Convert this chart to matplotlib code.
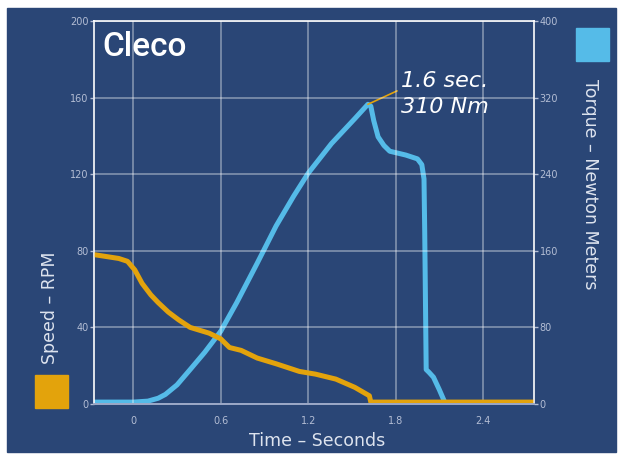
"""
plot.py – Cleco tightening curve: speed and torque against time.
"""
import matplotlib
matplotlib.use("Agg")
import matplotlib.pyplot as plt
import matplotlib.patches as mpatches

BG = "#2a4676"
GRID = "#ffffff"
TXT = "#dde3ee"
TICK = "#b3bdd4"
SPEED_C = "#e3a30c"
TORQUE_C = "#55bbe8"

# ── data ──────────────────────────────────────────────────────────────────────
torque_t = [-0.27, 0.0, 0.10, 0.17, 0.22, 0.30, 0.39, 0.49, 0.60, 0.71, 0.85,
            0.98, 1.10, 1.20, 1.36, 1.52, 1.61, 1.63, 1.65, 1.68, 1.72, 1.76,
            1.87, 1.95, 1.98, 1.995, 2.0, 2.01, 2.03, 2.06, 2.10, 2.14, 2.75]
torque_nm = [2, 2, 3, 6, 10, 20, 36, 54, 76, 106, 147,
             186, 217, 241, 272, 298, 313, 311, 296, 279, 270, 264,
             260, 256, 250, 235, 179, 36, 33, 28, 15, 1, 1]

speed_t = [-0.27, -0.10, -0.04, 0.01, 0.06, 0.12, 0.17, 0.24, 0.31, 0.39, 0.52,
           0.60, 0.66, 0.74, 0.85, 0.98, 1.14, 1.25, 1.39, 1.52, 1.62, 1.63, 2.75]
speed_rpm = [78, 76, 74.5, 70, 63, 57, 53, 48, 44, 40, 37,
             34, 29.5, 28, 24, 21, 17, 15.6, 13, 8.7, 4.3, 1, 1]

x_ticks = [0, 0.6, 1.2, 1.8, 2.4]
x_labels = ["0", "0.6", "1.2", "1.8", "2.4"]
speed_ticks = [0, 40, 80, 120, 160, 200]
torque_ticks = [0, 80, 160, 240, 320, 400]

peak_t, peak_nm = 1.61, 313

# ── figure ────────────────────────────────────────────────────────────────────
fig = plt.figure(figsize=(6.18, 4.58), dpi=100)
fig.patch.set_facecolor("white")
fig.patches.append(mpatches.Rectangle((7 / 618, 1 - 452 / 458), 609 / 618, 444 / 458,
                                      transform=fig.transFigure, color=BG, zorder=-5))

ax = fig.add_axes([94 / 618, 54 / 458, 440 / 618, 383 / 458])
ax2 = ax.twinx()
ax.set_zorder(ax2.get_zorder() + 1)
ax.patch.set_visible(False)
ax2.patch.set_visible(False)

ax.set_xlim(-0.27, 2.75)
ax.set_ylim(0, 200)
ax2.set_ylim(0, 400)

ax.set_xticks(x_ticks)
ax.set_xticklabels(x_labels)
ax.set_yticks(speed_ticks)
ax2.set_yticks(torque_ticks)

ax.grid(True, color=GRID, alpha=0.35, linewidth=1.4)
ax.set_axisbelow(True)

for a in (ax, ax2):
    for side, sp in a.spines.items():
        sp.set_color(GRID)
        sp.set_alpha(0.6)
        sp.set_linewidth(1.4)
    a.spines["bottom"].set_color("#9aa7c6")
    a.spines["bottom"].set_alpha(1)

ax.tick_params(axis="y", colors=TICK, labelsize=7, length=3, width=1, pad=1)
ax.tick_params(axis="x", colors=TICK, labelsize=7, length=0, pad=9)
ax2.tick_params(axis="y", colors=TICK, labelsize=7, length=3, width=1, pad=1)

ax2.plot(torque_t, torque_nm, color=TORQUE_C, linewidth=3.6,
         solid_capstyle="round", solid_joinstyle="round")
ax.plot(speed_t, speed_rpm, color=SPEED_C, linewidth=3.6,
        solid_capstyle="butt", solid_joinstyle="round")

# peak annotation: leader line, then the two-line label
ax2.annotate("", xy=(peak_t, peak_nm), xytext=(1.81, 327),
             arrowprops=dict(arrowstyle="-", color=SPEED_C, lw=1.2,
                             shrinkA=0, shrinkB=0))
ax2.text(1.84, 348, "1.6 sec.\n310 Nm", color="white", fontsize=16,
         fontstyle="italic", family="DejaVu Sans", va="top", ha="left",
         linespacing=1.4)

ax.text(0.02, 0.975, "Cleco", transform=ax.transAxes, color="white",
        fontsize=24, family="Roboto", fontweight="medium", va="top", ha="left")

fig.text(317 / 618, 1 - 441 / 458, "Time – Seconds", color=TXT, fontsize=12.5,
         family="DejaVu Sans", ha="center", va="center")
fig.text(50 / 618, 1 - 308 / 458, "Speed – RPM", color=TXT, fontsize=12.5,
         family="DejaVu Sans", ha="center", va="center", rotation=90)
fig.text(590 / 618, 1 - 184 / 458, "Torque – Newton Meters", color=TXT, fontsize=12.5,
         family="DejaVu Sans", ha="center", va="center", rotation=-90)

fig.patches.append(mpatches.Rectangle((35 / 618, 1 - 408 / 458), 33 / 618, 33 / 458,
                                      transform=fig.transFigure, color=SPEED_C, zorder=2))
fig.patches.append(mpatches.Rectangle((576 / 618, 1 - 61 / 458), 33 / 618, 33 / 458,
                                      transform=fig.transFigure, color=TORQUE_C, zorder=2))

fig.savefig("out.png", dpi=100, facecolor="white")
